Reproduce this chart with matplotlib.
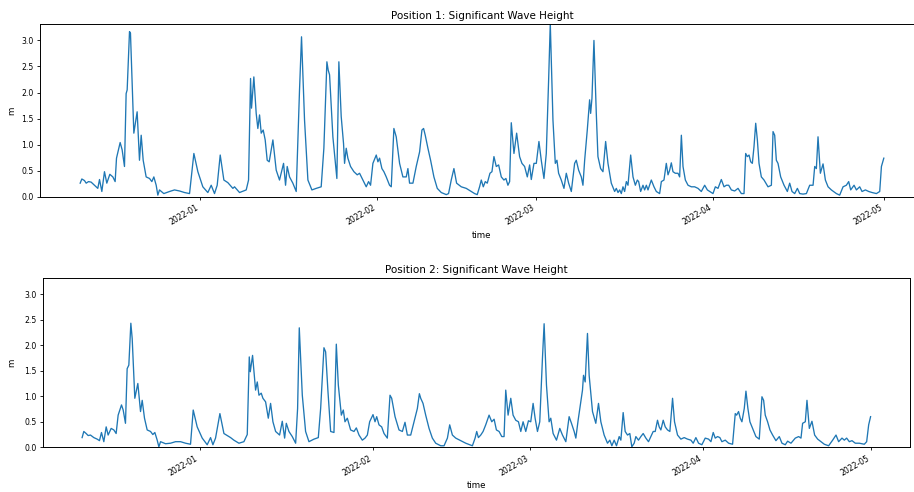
import matplotlib
matplotlib.use("Agg")
import matplotlib.pyplot as plt
import matplotlib.dates as mdates
import pandas as pd
import numpy as np

start = pd.Timestamp("2021-12-11")

# Position 1: day offset from start, significant wave height (m)
days_p1 = [0.0, 0.29, 0.75, 1.05, 1.46, 1.92, 2.51, 3.09, 3.39, 3.80, 4.26, 4.67, 5.20, 5.73, 6.13, 6.37,
           7.01, 7.36, 7.77, 8.06, 8.24, 8.65, 8.82, 9.41, 9.99, 10.40, 10.70, 11.05, 11.57, 12.16, 12.57,
           12.92, 13.33, 13.62, 13.91, 14.67, 15.67, 16.54, 17.42, 18.30, 19.18, 19.94, 20.64, 21.51, 22.39,
           22.98, 23.56, 24.03, 24.56, 25.20, 25.90, 26.78, 27.07, 27.95, 29.12, 29.53, 29.88, 30.05, 30.46,
           30.87, 31.16, 31.46, 31.75, 32.10, 32.45, 32.80, 33.15, 33.80, 34.38, 34.96, 35.67, 36.02, 36.31,
           36.72, 37.30, 37.89, 38.47, 38.82, 39.35, 39.94, 40.64, 41.40, 42.27, 42.74, 43.27, 43.50, 43.74,
           44.32, 45.02, 45.37, 45.78, 46.19,
           46.37, 46.66, 46.95, 47.42, 48.01, 48.59, 49.00, 49.59, 50.17, 50.58, 50.93, 51.34, 51.93, 52.22,
           52.51, 52.92, 53.27, 53.68, 54.26, 54.56, 55.02, 55.43, 56.02, 56.60, 57.19, 57.48, 57.77, 58.36,
           58.94, 59.53, 59.94, 60.23, 60.52, 60.99, 61.46, 62.04, 62.63, 63.33, 64.21, 64.61, 65.08, 65.55,
           66.02, 66.84, 67.71, 68.59, 69.18, 69.64, 70.05, 70.35, 70.70, 71.05, 71.40, 71.87, 72.22, 72.57,
           72.98, 73.39, 73.86, 74.32, 74.67, 75.02, 75.32, 75.61, 76.08, 76.55, 77.07, 77.48, 77.95, 78.42,
           78.83, 79.12, 79.59, 80.00, 80.46, 80.87, 81.34, 81.75, 82.16, 82.45, 82.92, 83.33, 83.62, 83.91,
           84.38, 84.85, 85.26, 85.67, 86.14, 86.72, 87.01, 87.42, 87.89, 88.18, 88.48, 88.94, 89.35, 89.53,
           89.76, 90.11, 90.52, 90.81, 91.28, 91.69, 92.16, 92.57, 93.15, 93.74, 94.03, 94.33, 94.62,
           94.91, 95.20, 95.49, 95.79, 96.08, 96.55, 96.96, 97.37, 97.72, 97.95, 98.30, 98.71, 99.00, 99.30,
           99.59, 100.17, 100.64, 101.05, 101.63, 101.93, 102.39, 102.80, 103.10, 103.39, 103.68, 103.97,
           104.38, 104.85, 105.14, 105.44, 105.73, 106.14, 106.61, 107.19, 107.77, 108.36, 108.94, 109.53,
           110.00, 110.70, 110.99, 111.40, 111.87, 112.45, 112.92, 113.33, 113.74, 114.21, 114.79, 115.38,
           115.96, 116.43, 116.72, 117.01, 117.31, 117.60, 117.89, 118.18, 118.48, 118.77, 119.06, 119.47,
           119.94, 120.64, 121.23, 121.52, 121.81, 122.10, 122.39, 122.86, 123.45, 124.03, 124.44, 124.85,
           125.32, 125.79, 126.20, 126.78, 127.37, 127.95, 128.54, 128.83, 129.12, 129.41, 129.82, 130.29,
           130.70, 131.17, 131.75, 132.63, 133.21, 133.80, 134.38, 134.79, 135.14, 135.73, 136.14, 136.72,
           137.13, 137.72, 138.30, 138.89, 139.65, 140.23, 140.53, 140.95]
hs_p1 = [0.26, 0.34, 0.31, 0.26, 0.29, 0.28, 0.22, 0.16, 0.33, 0.10, 0.48, 0.26, 0.43, 0.38, 0.29, 0.74,
         1.04, 0.90, 0.58, 1.98, 2.05, 3.17, 3.14, 1.22, 1.63, 0.70, 1.18, 0.70, 0.38, 0.35, 0.29,
         0.38, 0.22, 0.03, 0.13, 0.06, 0.10, 0.13, 0.11, 0.08, 0.06, 0.83, 0.48, 0.19, 0.08,
         0.22, 0.06, 0.22, 0.80, 0.32, 0.27, 0.16, 0.19, 0.08, 0.13, 0.32, 2.27, 1.70, 2.30,
         1.60, 1.31, 1.57, 1.22, 1.28, 1.09, 0.70, 0.67, 1.09, 0.51, 0.32, 0.64, 0.22, 0.58,
         0.38, 0.26, 0.10, 2.05, 3.07, 1.47, 0.32, 0.13, 0.16, 0.19, 0.93, 2.59, 2.43, 2.34,
         1.15, 0.35, 2.59, 1.54, 1.02,
         0.64, 0.93, 0.74, 0.58, 0.48, 0.42, 0.45, 0.32, 0.19, 0.29, 0.22, 0.64, 0.80, 0.67,
         0.74, 0.54, 0.48, 0.38, 0.22, 0.19, 1.31, 1.15, 0.64, 0.38, 0.38, 0.54, 0.26, 0.26,
         0.58, 0.86, 1.28, 1.31, 1.18, 0.93, 0.70, 0.38, 0.16, 0.08, 0.04, 0.06, 0.32, 0.54,
         0.26, 0.19, 0.16, 0.10, 0.06, 0.04, 0.19, 0.32, 0.19, 0.29, 0.26, 0.45, 0.48, 0.77,
         0.58, 0.61, 0.38, 0.32, 0.35, 0.22, 0.29, 1.42, 0.83, 1.22, 0.77, 0.64, 0.58, 0.38,
         0.61, 0.33, 0.64, 0.64, 1.06, 0.70, 0.35, 0.83, 2.24, 3.33, 1.47, 0.64, 0.70, 0.45,
         0.32, 0.16, 0.45, 0.26, 0.10, 0.64, 0.70, 0.51, 0.38, 0.22, 0.70, 1.28, 1.86, 1.60,
         1.89, 3.00, 1.60, 0.77, 0.54, 0.48, 1.06, 0.64, 0.26, 0.10, 0.16, 0.08, 0.13,
         0.06, 0.19, 0.10, 0.29, 0.22, 0.80, 0.38, 0.22, 0.32, 0.29, 0.10, 0.22, 0.13, 0.22,
         0.13, 0.32, 0.19, 0.10, 0.06, 0.29, 0.32, 0.64, 0.42, 0.51, 0.65, 0.48,
         0.45, 0.45, 0.38, 1.18, 0.58, 0.32, 0.22, 0.19, 0.19, 0.16, 0.10, 0.22,
         0.13, 0.08, 0.06, 0.19, 0.16, 0.33, 0.19, 0.22, 0.22, 0.13, 0.11, 0.16,
         0.06, 0.06, 0.83, 0.77, 0.80, 0.67, 0.64, 0.96, 1.41, 1.09, 0.64, 0.38,
         0.32, 0.19, 0.22, 1.25, 1.18, 0.70, 0.64, 0.38, 0.22, 0.10, 0.26, 0.10,
         0.06, 0.16, 0.06, 0.05, 0.06, 0.22, 0.22, 0.58, 0.54, 1.15, 0.45, 0.63,
         0.32, 0.19, 0.13, 0.06, 0.03, 0.19, 0.22, 0.29, 0.13, 0.22, 0.13, 0.19,
         0.10, 0.13, 0.10, 0.08, 0.06, 0.10, 0.58, 0.74]

# Position 2
days_p2 = [0.00, 0.30, 0.72, 1.08, 1.49, 2.09, 2.69, 3.10, 3.46, 3.88, 4.30, 4.65, 5.19, 5.67, 6.08, 6.44,
           7.04, 7.34, 7.75, 8.05, 8.35, 8.71, 8.95, 9.42, 9.96, 10.44, 10.74, 11.15, 11.63, 12.23, 12.64,
           13.00, 13.42, 13.72, 14.02, 14.91, 15.80, 16.70, 17.59, 18.49, 19.38, 19.86, 20.57, 21.47, 22.36,
           22.96, 23.38, 23.85, 24.63, 25.35, 25.94, 26.54, 27.13, 28.03, 28.92, 29.52, 29.88, 30.06, 30.47,
           31.01, 31.31, 31.61, 32.02, 32.32, 32.80, 33.28, 33.69, 34.11, 34.59, 35.30, 35.78, 36.20, 36.50,
           36.97, 37.57, 38.17, 38.52, 38.82, 39.36, 39.95, 40.55, 41.45, 42.22, 42.64, 43.23, 43.53, 43.95,
           44.43, 45.02, 45.44, 45.80, 46.34, 46.69, 46.99, 47.41,
           48.00, 48.60, 49.02, 49.50, 50.09, 50.57, 50.99, 51.40, 52.00, 52.36, 52.66, 53.07, 53.55, 53.97,
           54.56, 55.04, 55.34, 55.94, 56.65, 57.25, 57.72, 58.14, 58.74, 59.33, 59.93, 60.29, 60.53, 60.94,
           61.42, 62.02, 62.61, 63.21, 64.11, 64.70, 65.30, 65.71, 66.19, 66.79, 67.68, 68.58, 69.29, 69.77,
           70.25, 70.54, 70.84, 71.26, 71.68, 72.15, 72.75, 73.23, 73.65, 74.06, 74.54, 75.02, 75.43, 75.73,
           76.15, 76.63, 77.04, 77.52, 78.00, 78.42, 78.83, 79.31, 79.79, 80.20, 80.62, 80.98, 81.40, 81.81,
           82.29, 82.59, 83.01, 83.48, 83.78, 84.20, 84.80, 85.39, 85.87, 86.47, 87.06, 87.48, 87.96, 88.26,
           88.67, 89.15, 89.45, 89.63, 89.93, 90.34, 90.64, 91.24, 91.83, 92.31, 92.73, 93.32, 93.92, 94.34,
           94.70, 95.11, 95.53, 96.01, 96.31,
           96.72, 97.08, 97.50, 97.91, 98.27, 98.69, 98.99, 99.46, 99.88, 100.30, 100.78, 101.25, 101.67,
           102.09, 102.45, 102.86, 103.16, 103.46, 103.88, 104.24, 104.65, 105.07, 105.55, 105.90, 106.44,
           107.04, 107.63, 108.23, 108.83, 109.24, 109.72, 110.20, 110.79, 111.39, 111.99, 112.41, 112.82,
           113.18, 113.60, 114.01, 114.37, 114.97, 115.57, 116.28, 116.76, 117.00, 117.35, 117.65, 117.95,
           118.37, 118.67, 119.02, 119.38, 119.86, 120.45, 121.05, 121.53, 121.83, 122.12, 122.54, 122.96,
           123.44, 124.03, 124.63, 125.11, 125.70, 126.12, 126.72, 127.49, 128.09, 128.51, 128.80, 129.28,
           129.58, 130.00, 130.47, 130.95, 131.49, 132.08, 132.68, 133.45, 134.17, 134.77, 135.24, 135.84,
           136.26, 136.67, 137.15, 137.63, 138.22, 138.94, 139.83, 140.25, 140.61, 140.95]
hs_p2 = [0.19, 0.31, 0.27, 0.23, 0.24, 0.19, 0.16, 0.13, 0.29, 0.11, 0.40, 0.24, 0.37, 0.34, 0.27, 0.63,
         0.83, 0.73, 0.47, 1.54, 1.61, 2.43, 2.13, 0.96, 1.25, 0.70, 0.92, 0.57, 0.34, 0.31, 0.25,
         0.29, 0.14, 0.01, 0.11, 0.07, 0.08, 0.11, 0.11, 0.08, 0.06, 0.73, 0.40, 0.18, 0.05,
         0.19, 0.05, 0.18, 0.66, 0.27, 0.23, 0.19, 0.14, 0.08, 0.11, 0.25, 1.77, 1.48, 1.80,
         1.12, 1.28, 1.02, 1.06, 0.96, 0.89, 0.57, 0.86, 0.50, 0.31, 0.24, 0.51, 0.18, 0.47,
         0.31, 0.21, 0.08, 0.76, 2.34, 1.02, 0.31, 0.11, 0.16, 0.19, 0.76, 1.95, 1.87, 1.09,
         0.31, 0.29, 2.02, 1.22, 0.63, 0.73, 0.50, 0.57,
         0.34, 0.31, 0.38, 0.24, 0.14, 0.18, 0.24, 0.50, 0.64, 0.50, 0.60, 0.44, 0.40, 0.27,
         0.18, 1.02, 0.96, 0.60, 0.34, 0.31, 0.49, 0.24, 0.24, 0.50, 0.76, 1.05, 0.96, 0.86,
         0.63, 0.37, 0.18, 0.08, 0.03, 0.03, 0.18, 0.44, 0.24, 0.18, 0.13, 0.08, 0.05, 0.03,
         0.18, 0.31, 0.19, 0.24, 0.31, 0.44, 0.63, 0.50, 0.55, 0.34, 0.31, 0.21, 0.21, 1.12,
         0.63, 0.96, 0.63, 0.53, 0.50, 0.31, 0.50, 0.31, 0.52, 0.50, 0.86, 0.57, 0.31, 0.50,
         1.74, 2.42, 1.22, 0.50, 0.57, 0.27, 0.14, 0.37, 0.24, 0.11, 0.60, 0.47, 0.31, 0.18,
         0.53, 0.89, 1.12, 1.41, 1.28, 2.23, 1.41, 0.70, 0.47, 0.86, 0.50, 0.24, 0.08, 0.14,
         0.03, 0.14, 0.03, 0.21, 0.14,
         0.68, 0.31, 0.24, 0.27, 0.01, 0.08, 0.21, 0.14, 0.21, 0.27, 0.18, 0.11, 0.21,
         0.31, 0.31, 0.53, 0.40, 0.34, 0.53, 0.40, 0.34, 0.31, 0.96, 0.50, 0.24,
         0.16, 0.19, 0.16, 0.14, 0.08, 0.19, 0.08, 0.05, 0.18, 0.16, 0.11, 0.29,
         0.18, 0.21, 0.19, 0.11, 0.14, 0.08, 0.06, 0.66, 0.63, 0.70, 0.57, 0.50,
         0.76, 1.10, 0.76, 0.50, 0.37, 0.21, 0.16, 0.99, 0.92, 0.63, 0.50, 0.34,
         0.24, 0.13, 0.21, 0.08, 0.05, 0.12, 0.08, 0.18, 0.21, 0.18, 0.47, 0.50,
         0.92, 0.37, 0.51, 0.24, 0.16, 0.11, 0.06, 0.03, 0.14, 0.24, 0.11, 0.18,
         0.14, 0.18, 0.11, 0.13, 0.08, 0.08, 0.06, 0.11, 0.44, 0.60]

titles = ["Position 1: Significant Wave Height", "Position 2: Significant Wave Height"]
y_label = "m"
x_label = "time"

t1 = start + pd.to_timedelta(np.array(days_p1), unit="D")
t2 = start + pd.to_timedelta(np.array(days_p2), unit="D")

W, H = 914, 492
fig = plt.figure(figsize=(W / 100, H / 100), dpi=100)

# axes boxes in pixels: left, top, right, bottom
boxes = [(40, 24.3, 924, 196.7), (42.7, 278.3, 910, 447.3)]
series = [(t1, hs_p1), (t2, hs_p2)]
ylab_off = [-0.027, -0.031]

for i, ((l, t, r, b), (tt, vv)) in enumerate(zip(boxes, series)):
    ax = fig.add_axes([l / W, (H - b) / H, (r - l) / W, (b - t) / H])
    ax.plot(tt, vv, color="#1f77b4", linewidth=0.95)
    ax.set_ylim(0, 3.31)
    ax.set_yticks([0.0, 0.5, 1.0, 1.5, 2.0, 2.5, 3.0])
    ax.xaxis.set_major_locator(mdates.MonthLocator())
    ax.xaxis.set_major_formatter(mdates.DateFormatter("%Y-%m"))
    ax.tick_params(labelsize=5.6, length=2.5, width=0.6, pad=2)
    for lab in ax.get_xticklabels():
        lab.set_rotation(30)
        lab.set_ha("right")
    ax.set_title(titles[i], fontsize=7.5, pad=3.5)
    ax.set_xlabel(x_label, fontsize=6.2)
    ax.set_ylabel(y_label, fontsize=6.2)
    ax.xaxis.set_label_coords(0.5, -0.20)
    ax.yaxis.set_label_coords(ylab_off[i], 0.5)
    for s in ax.spines.values():
        s.set_linewidth(0.7)

fig.savefig("out.png", dpi=100)
